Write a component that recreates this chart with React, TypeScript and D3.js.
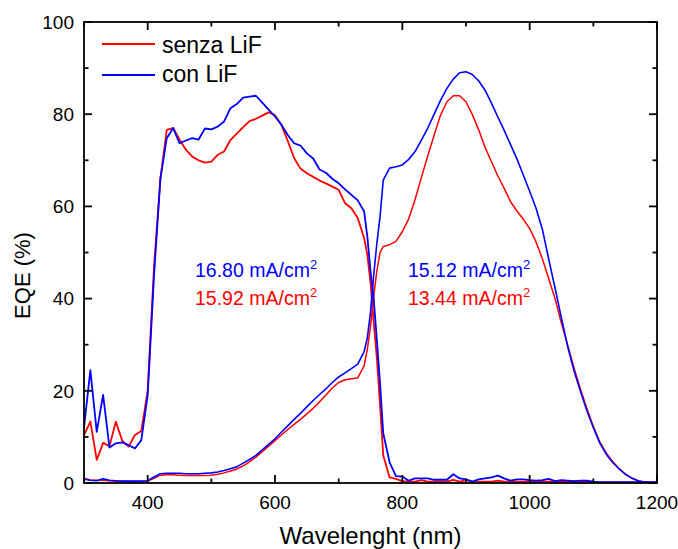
import React, { useEffect } from "react";
import * as d3 from "d3";

const wavelength = [
  300, 310, 320, 330, 340, 350, 360, 370, 380, 390, 400, 410, 420, 430, 440, 450, 460, 470, 480, 490,
  500, 510, 520, 530, 540, 550, 560, 570, 580, 590, 600, 610, 620, 630, 640, 650, 660, 670, 680, 690,
  700, 710, 720, 730, 740, 745, 750, 755, 760, 765, 770, 780, 790, 800, 810, 820, 830, 840, 850, 860,
  870, 880, 890, 900, 910, 920, 930, 940, 950, 960, 970, 980, 990, 1000, 1010, 1020, 1030, 1040, 1050, 1060,
  1070, 1080, 1090, 1100, 1110, 1120, 1130, 1140, 1150, 1160, 1170, 1180, 1190, 1200,
];

// senza LiF (red) – front sub-cell
const senzaFront = [
  10.4, 13.3, 5.0, 8.7, 8.0, 13.3, 9.2, 7.9, 10.4, 11.3, 20, 47, 66, 76.6, 77.0, 74.5, 72.3, 70.8, 70.0, 69.5,
  69.7, 71.2, 71.9, 74.4, 75.8, 77.2, 78.5, 79.0, 79.7, 80.4, 79.8, 77.7, 74.2, 70.5, 68.2, 67.2, 66.4, 65.6, 65.0, 64.3,
  63.6, 60.7, 59.6, 57.5, 53.1, 49.5, 43.5, 35, 27, 17, 6, 1.2, 0.9, 0.4, 0.3, 0.3, 0.6, 0.3, 0.3, 0.3,
  0.3, 0.7, 0.3, 0.6, 0.3, 0.3, 0.3, 0.3, 0.5, 0.3, 0.3, 0.3, 0.3, 0.3, 0.3, 0.3, 0.3, 0.3, 0.3, 0.3,
  0.3, 0.3, 0.3, 0.2, 0.1, 0.1, 0.1, 0.1, 0.1, 0.1, 0.1, 0.1, 0.1, 0.1,
];
// con LiF (blue) – front sub-cell
const conFront = [
  12, 24.5, 11.1, 19.1, 7.7, 8.6, 8.8, 8.2, 7.5, 9.3, 19, 45, 66, 74.8, 77, 73.7, 74.3, 74.8, 74.5, 76.9,
  76.7, 77.3, 78.4, 81.3, 82.2, 83.6, 83.8, 84.0, 82.5, 81, 79.5, 77.7, 75.5, 73.7, 73.2, 71.5, 70.4, 68.0, 67.3, 66.0,
  65.0, 63.7, 62.5, 61.3, 58.9, 53.5, 46, 40, 31, 21.6, 10.8, 4.5, 1.5, 1.4, 0.5, 1.0, 1.0, 1.0, 0.7, 0.7,
  0.7, 1.9, 1.0, 0.8, 0.3, 0.8, 1.0, 1.2, 1.6, 1.0, 0.5, 0.8, 0.8, 0.6, 0.5, 0.6, 0.9, 0.4, 0.6, 0.5,
  0.4, 0.5, 0.5, 0.3, 0.2, 0.2, 0.2, 0.2, 0.2, 0.2, 0.2, 0.2, 0.2, 0.2,
];
// senza LiF (red) – back sub-cell
const senzaBack = [
  1.1, 0.6, 0.6, 0.6, 0.5, 0.4, 0.4, 0.3, 0.3, 0.3, 0.4, 1.0, 1.7, 1.8, 1.8, 1.7, 1.6, 1.6, 1.6, 1.6,
  1.7, 1.9, 2.2, 2.6, 3.0, 3.7, 4.6, 5.6, 6.8, 8.0, 9.2, 10.4, 11.6, 12.7, 13.8, 15.0, 16.2, 17.6, 19.1, 20.6,
  21.8, 22.4, 22.6, 22.8, 25.4, 29, 34, 40.5, 46, 50, 51.3, 51.7, 52.4, 54.5, 57.3, 61.5, 66.3, 71.0, 75.5, 79.8,
  82.7, 84.0, 84.0, 82.7, 79.9, 76.6, 72.8, 69.7, 66.6, 63.9, 61.0, 59.0, 57.2, 55.2, 52.3, 48.6, 44.3, 39.9, 34.6, 29.8,
  24.8, 20.3, 16.1, 12.3, 9.0, 6.6, 4.7, 3.2, 2.0, 1.1, 0.5, 0.2, 0.1, 0.1,
];
// con LiF (blue) – back sub-cell
const conBack = [
  0.8, 0.6, 0.5, 0.9, 0.6, 0.5, 0.4, 0.4, 0.4, 0.4, 0.5, 1.3, 2.0, 2.1, 2.1, 2.1, 2.0, 2.0, 2.0, 2.1,
  2.2, 2.4, 2.7, 3.1, 3.5, 4.3, 5.1, 6.0, 7.2, 8.4, 9.6, 11.0, 12.4, 13.8, 15.1, 16.5, 17.9, 19.2, 20.4, 21.8,
  23.0, 23.9, 24.8, 25.8, 28.5, 31.5, 37, 45, 52, 57.8, 65.7, 68.3, 68.6, 69.0, 70.2, 71.9, 74.4, 77.0, 80.0, 83.0,
  85.6, 87.6, 89.0, 89.2, 88.6, 87.2, 85.2, 82.4, 79.4, 76.5, 73.4, 70.3, 66.8, 63.3, 59.6, 55.0, 48.5, 42.2, 35.7, 29.4,
  24.2, 19.8, 15.6, 12.0, 8.7, 6.3, 4.5, 3.1, 1.9, 1.1, 0.5, 0.2, 0.1, 0.1,
];

const xMajorTicks = [400, 600, 800, 1000, 1200];
const xMinorTicks = [300, 500, 700, 900, 1100];
const yMajorTicks = [0, 20, 40, 60, 80, 100];
const yMinorTicks = [10, 30, 50, 70, 90];

const legendLabels = ["senza LiF", "con LiF"];
const jscLeftBlue = "16.80 mA/cm";
const jscLeftRed = "15.92 mA/cm";
const jscRightBlue = "15.12 mA/cm";
const jscRightRed = "13.44 mA/cm";

const RED = "#ff0000";
const BLUE = "#0000ff";
const FONT = "'Liberation Sans', Arial, sans-serif";

export default function App() {
  useEffect(() => {
    document.body.style.margin = "0";
  }, []);

  const W = 678;
  const H = 549;
  const left = 84;
  const right = 657;
  const top = 22;
  const bottom = 483;

  const x = d3.scaleLinear().domain([300, 1200]).range([left, right]);
  const y = d3.scaleLinear().domain([0, 100]).range([bottom, top]);

  const mk = (vals: number[]) =>
    d3
      .line<number>()
      .x((_, i) => x(wavelength[i]))
      .y((d) => y(d))(vals) || "";

  const majorLen = 8;
  const minorLen = 4.5;
  const axisW = 1.8;

  return (
    <svg width={W} height={H} style={{ display: "block", background: "#fff" }} fontFamily={FONT}>
      <defs>
        <clipPath id="plotclip">
          <rect x={left} y={top} width={right - left} height={bottom - top} />
        </clipPath>
      </defs>
      <g clipPath="url(#plotclip)" fill="none" strokeLinejoin="round">
        <path d={mk(senzaBack)} stroke={RED} strokeWidth={1.5} />
        <path d={mk(senzaFront)} stroke={RED} strokeWidth={1.8} />
        <path d={mk(conBack)} stroke={BLUE} strokeWidth={1.6} />
        <path d={mk(conFront)} stroke={BLUE} strokeWidth={1.8} />
      </g>

      {/* frame */}
      <rect x={left} y={top} width={right - left} height={bottom - top} fill="none" stroke="#000" strokeWidth={axisW} />

      {/* x ticks bottom & top */}
      {xMajorTicks.map((t) => (
        <g key={"xM" + t}>
          <line x1={x(t)} x2={x(t)} y1={bottom} y2={bottom - majorLen} stroke="#000" strokeWidth={axisW} />
          <line x1={x(t)} x2={x(t)} y1={top} y2={top + majorLen} stroke="#000" strokeWidth={axisW} />
          <text x={x(t)} y={508.5} textAnchor="middle" fontSize={19} fill="#000">
            {t}
          </text>
        </g>
      ))}
      {xMinorTicks.map((t) => (
        <g key={"xm" + t}>
          <line x1={x(t)} x2={x(t)} y1={bottom} y2={bottom - minorLen} stroke="#000" strokeWidth={axisW} />
          <line x1={x(t)} x2={x(t)} y1={top} y2={top + minorLen} stroke="#000" strokeWidth={axisW} />
        </g>
      ))}

      {/* y ticks left & right */}
      {yMajorTicks.map((t) => (
        <g key={"yM" + t}>
          <line x1={left} x2={left + majorLen} y1={y(t)} y2={y(t)} stroke="#000" strokeWidth={axisW} />
          <line x1={right} x2={right - majorLen} y1={y(t)} y2={y(t)} stroke="#000" strokeWidth={axisW} />
          <text x={74} y={y(t) + 6.8} textAnchor="end" fontSize={19} fill="#000">
            {t}
          </text>
        </g>
      ))}
      {yMinorTicks.map((t) => (
        <g key={"ym" + t}>
          <line x1={left} x2={left + minorLen} y1={y(t)} y2={y(t)} stroke="#000" strokeWidth={axisW} />
          <line x1={right} x2={right - minorLen} y1={y(t)} y2={y(t)} stroke="#000" strokeWidth={axisW} />
        </g>
      ))}

      {/* axis titles */}
      <text x={(left + right) / 2} y={544} textAnchor="middle" fontSize={24} fill="#000">
        Wavelenght (nm)
      </text>
      <text
        transform={`translate(30, ${(top + bottom) / 2 + 23}) rotate(-90)`}
        textAnchor="middle"
        fontSize={22}
        fill="#000"
      >
        EQE (%)
      </text>

      {/* legend */}
      <line x1={102} x2={155} y1={44} y2={44} stroke={RED} strokeWidth={1.8} />
      <text x={162} y={52.5} fontSize={23} fill="#000">
        {legendLabels[0]}
      </text>
      <line x1={102} x2={155} y1={75} y2={75} stroke={BLUE} strokeWidth={1.8} />
      <text x={162} y={82} fontSize={23} fill="#000">
        {legendLabels[1]}
      </text>

      {/* Jsc annotations */}
      <text x={195} y={277} fontSize={19.5} fill={BLUE}>
        {jscLeftBlue}
        <tspan fontSize={13} dy={-8.5}>2</tspan>
      </text>
      <text x={195} y={305} fontSize={19.5} fill={RED}>
        {jscLeftRed}
        <tspan fontSize={13} dy={-8.5}>2</tspan>
      </text>
      <text x={408} y={277} fontSize={19.5} fill={BLUE}>
        {jscRightBlue}
        <tspan fontSize={13} dy={-8.5}>2</tspan>
      </text>
      <text x={408} y={305} fontSize={19.5} fill={RED}>
        {jscRightRed}
        <tspan fontSize={13} dy={-8.5}>2</tspan>
      </text>
    </svg>
  );
}
